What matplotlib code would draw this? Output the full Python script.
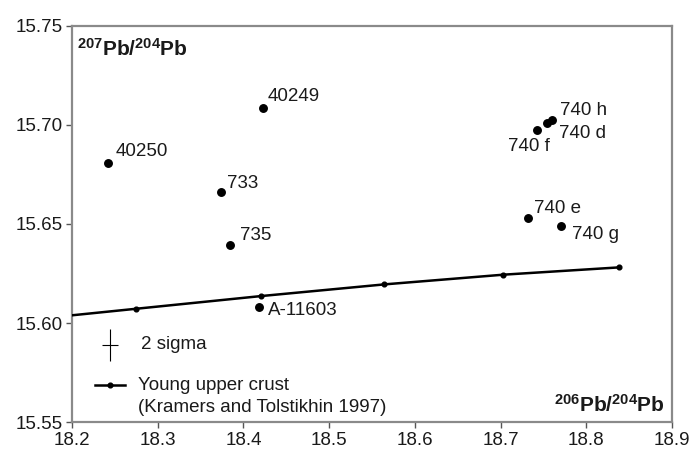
import numpy as np
import matplotlib.pyplot as plt

plt.rcParams['font.family'] = ['Liberation Sans', 'DejaVu Sans']
plt.rcParams['mathtext.fontset'] = 'custom'
plt.rcParams['mathtext.rm'] = 'Liberation Sans'
plt.rcParams['mathtext.bf'] = 'Liberation Sans:bold'

# sample lead isotope ratios
labels = ['40250', '40249', '733', '735', 'A-11603',
          '740 h', '740 d', '740 f', '740 e', '740 g']
pb206 = [18.242, 18.423, 18.3735, 18.384, 18.418,
         18.7597, 18.754, 18.742, 18.7317, 18.7705]
pb207 = [15.681, 15.7086, 15.6663, 15.6394, 15.6082,
         15.7025, 15.7012, 15.6975, 15.6529, 15.6492]
# label offsets in pixels (dx, dy) and alignment
label_dx = [8, 4, 6, 10, 9, 8, 12, -8, 6, 11]
label_dy = [11, 11, 8, 9, -4, 10, -11, -17, 10, -9]
label_ha = ['left'] * 7 + ['center'] + ['left'] * 2

# young upper crust evolution curve (Kramers and Tolstikhin 1997)
crust_206 = [18.130, 18.275, 18.4205, 18.5644, 18.7032, 18.8386]
crust_207 = [15.6008, 15.6072, 15.6136, 15.6195, 15.6244, 15.6281]

# 2 sigma error cross
sigma_x, sigma_y = 18.2443, 15.5889
sigma_dx, sigma_dy = 0.0093, 0.008

xticks = [18.2, 18.3, 18.4, 18.5, 18.6, 18.7, 18.8, 18.9]
yticks = [15.55, 15.60, 15.65, 15.70, 15.75]

fig = plt.figure(figsize=(6.91, 4.55), dpi=100)
ax = fig.add_axes([0.1042, 0.0725, 0.8683, 0.8704])

ax.plot(crust_206, crust_207, color='black', lw=1.8,
        marker='o', ms=3.4, clip_on=True, zorder=3)
ax.plot(pb206, pb207, 'o', color='black', ms=5.4, zorder=4)

for lab, x, y, dx, dy, ha in zip(labels, pb206, pb207, label_dx, label_dy, label_ha):
    ax.annotate(lab, (x, y), xytext=(dx, dy), textcoords='offset pixels',
                ha=ha, va='center', fontsize=13.5, color='#1a1a1a')

ax.errorbar([sigma_x], [sigma_y], xerr=[sigma_dx], yerr=[sigma_dy],
            fmt='none', ecolor='black', elinewidth=0.8, capsize=0)
ax.text(0.115, 0.195, '2 sigma', transform=ax.transAxes,
        ha='left', va='center', fontsize=13.5, color='#1a1a1a')

# legend key for the crust curve
ax.plot([0.0383, 0.0883], [0.0934, 0.0934], transform=ax.transAxes,
        color='black', lw=1.8, clip_on=False)
ax.plot([0.0633], [0.0934], 'o', transform=ax.transAxes,
        color='black', ms=3.4, clip_on=False)
ax.text(0.11, 0.0934, 'Young upper crust', transform=ax.transAxes,
        ha='left', va='center', fontsize=13.5, color='#1a1a1a')
ax.text(0.11, 0.036, '(Kramers and Tolstikhin 1997)', transform=ax.transAxes,
        ha='left', va='center', fontsize=13.5, color='#1a1a1a')

ax.text(0.008, 0.943, r'$\mathbf{^{207}Pb/^{204}Pb}$', transform=ax.transAxes,
        ha='left', va='center', fontsize=15, color='#1a1a1a')
ax.text(0.988, 0.043, r'$\mathbf{^{206}Pb/^{204}Pb}$', transform=ax.transAxes,
        ha='right', va='center', fontsize=15, color='#1a1a1a')

ax.set_xlim(18.2, 18.9)
ax.set_ylim(15.55, 15.75)
ax.set_xticks(xticks)
ax.set_xticklabels([f'{v:.1f}' for v in xticks])
ax.set_yticks(yticks)
ax.set_yticklabels([f'{v:.2f}' for v in yticks])
ax.tick_params(direction='out', length=4, width=1, color='#555555',
               labelsize=13.5, labelcolor='#1a1a1a', pad=3)
for side in ['left', 'bottom', 'top', 'right']:
    ax.spines[side].set_color('#8a8a8a')
    ax.spines[side].set_linewidth(1.6)

fig.savefig('out.png', dpi=100)
